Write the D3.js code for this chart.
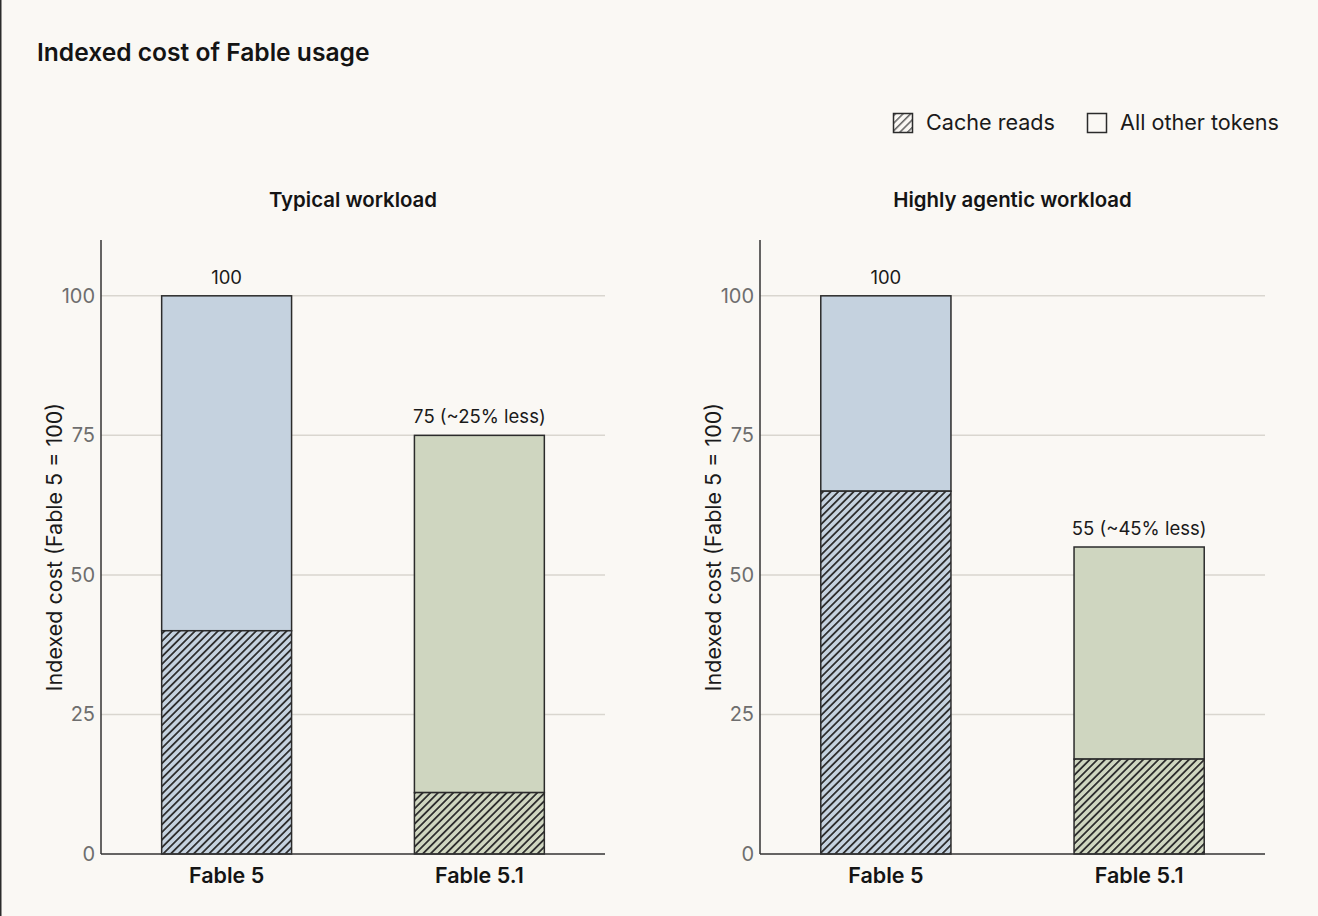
<!DOCTYPE html>
<html>
<head>
<meta charset="utf-8">
<script src="https://cdn.jsdelivr.net/npm/d3@7"></script>
<style>
  html,body{margin:0;padding:0;background:#faf8f4;}
  body{width:1318px;height:916px;overflow:hidden;}
  #chart{display:block;}
  text{font-family:Inter,"Noto Sans",sans-serif;}
</style>
</head>
<body>
<svg id="chart" width="1318" height="916"></svg>
<script>
const models=["Fable 5","Fable 5.1"];
const panels=["Typical workload","Highly agentic workload"];
const totals=[[100,75],[100,55]];
const cacheReads=[[40,11],[65,17]];
const barLabels=[["100","75 (~25% less)"],["100","55 (~45% less)"]];
const yTicks=[0,25,50,75,100];
const legendItems=["Cache reads","All other tokens"];
const fills={"Fable 5":"#c5d2df","Fable 5.1":"#cfd6c0"};

const svg=d3.select("#chart");
svg.append("line").attr("x1",0.75).attr("x2",0.75).attr("y1",0).attr("y2",916)
  .attr("stroke","#2b2b2b").attr("stroke-width",1.5);

const defs=svg.append("defs");
Object.entries(fills).forEach(([k,c],i)=>{
  const p=defs.append("pattern").attr("id","hatch"+i).attr("patternUnits","userSpaceOnUse")
    .attr("width",5.4).attr("height",10).attr("patternTransform","rotate(45)");
  p.append("rect").attr("width",5.4).attr("height",10).attr("fill",c);
  p.append("line").attr("x1",0.9).attr("x2",0.9).attr("y1",0).attr("y2",10)
    .attr("stroke","#2e2e2e").attr("stroke-width",1.8);
});
const legPat=defs.append("pattern").attr("id","hatchLeg").attr("patternUnits","userSpaceOnUse")
  .attr("width",5.4).attr("height",10).attr("patternTransform","rotate(45)");
legPat.append("rect").attr("width",5.4).attr("height",10).attr("fill","#faf8f4");
legPat.append("line").attr("x1",0.8).attr("x2",0.8).attr("y1",0).attr("y2",10)
  .attr("stroke","#555").attr("stroke-width",1.4);

svg.append("text").attr("x",37).attr("y",61).attr("font-size",24.6).attr("font-weight",600)
  .attr("fill","#141414").text("Indexed cost of Fable usage");

// legend
const leg=svg.append("g");
const legX=[893,1087];
legendItems.forEach((t,i)=>{
  leg.append("rect").attr("x",legX[i]+0.5).attr("y",113.5).attr("width",19).attr("height",19)
    .attr("fill",i===0?"url(#hatchLeg)":"#faf8f4").attr("stroke","#2b2b2b").attr("stroke-width",1.5);
  leg.append("text").attr("x",legX[i]+33).attr("y",130).attr("font-size",21.6).attr("fill","#1a1a1a").text(t);
});

const plotTop=240,plotBottom=854;
const y=d3.scaleLinear().domain([0,110]).range([plotBottom,plotTop]);
const panelX=[[101,605],[760,1265]];

panels.forEach((title,pi)=>{
  const [x0,x1]=panelX[pi];
  const x=d3.scaleBand().domain(models).range([x0,x1]).paddingInner(0.486).paddingOuter(0.24);
  const g=svg.append("g");

  g.append("text").attr("x",(x0+x1)/2).attr("y",207).attr("text-anchor","middle")
    .attr("font-size",20.4).attr("font-weight",600).attr("fill","#141414").text(title);

  g.selectAll(".grid").data(yTicks.filter(d=>d>0)).join("line")
    .attr("x1",x0).attr("x2",x1).attr("y1",d=>y(d)).attr("y2",d=>y(d))
    .attr("stroke","#d9d6cf").attr("stroke-width",1.5);

  const ax=g.append("g").attr("transform",`translate(${x0},0)`)
    .call(d3.axisLeft(y).tickValues(yTicks).tickSize(0).tickPadding(6));
  ax.select(".domain").remove();
  ax.selectAll("text").attr("font-size",20).attr("fill","#6e6e6e")
    .attr("font-family","Inter,'Noto Sans',sans-serif");

  g.append("line").attr("x1",x0).attr("x2",x0).attr("y1",plotTop).attr("y2",plotBottom)
    .attr("stroke","#333").attr("stroke-width",1.5);

  g.append("text").attr("transform",`translate(${x0-39},${(plotTop+plotBottom)/2}) rotate(-90)`)
    .attr("text-anchor","middle").attr("font-size",21.5).attr("fill","#1a1a1a")
    .text("Indexed cost (Fable 5 = 100)");

  models.forEach((m,i)=>{
    const bx=x(m),bw=x.bandwidth();
    const t=totals[pi][i],c=cacheReads[pi][i];
    g.append("rect").attr("x",bx).attr("width",bw).attr("y",y(t)).attr("height",y(c)-y(t))
      .attr("fill",fills[m]).attr("stroke","#2b2b2b").attr("stroke-width",1.5);
    g.append("rect").attr("x",bx).attr("width",bw).attr("y",y(c)).attr("height",y(0)-y(c))
      .attr("fill",`url(#hatch${i})`).attr("stroke","#2b2b2b").attr("stroke-width",1.5);
    g.append("text").attr("x",bx+bw/2).attr("y",y(t)-12).attr("text-anchor","middle")
      .attr("font-size",18.5).attr("fill","#1a1a1a").text(barLabels[pi][i]);
    g.append("text").attr("x",bx+bw/2).attr("y",plotBottom+29).attr("text-anchor","middle")
      .attr("font-size",21.5).attr("font-weight",600).attr("fill","#141414").text(m);
  });

  g.append("line").attr("x1",x0).attr("x2",x1).attr("y1",plotBottom).attr("y2",plotBottom)
    .attr("stroke","#333").attr("stroke-width",1.5);
});
</script>
</body>
</html>
